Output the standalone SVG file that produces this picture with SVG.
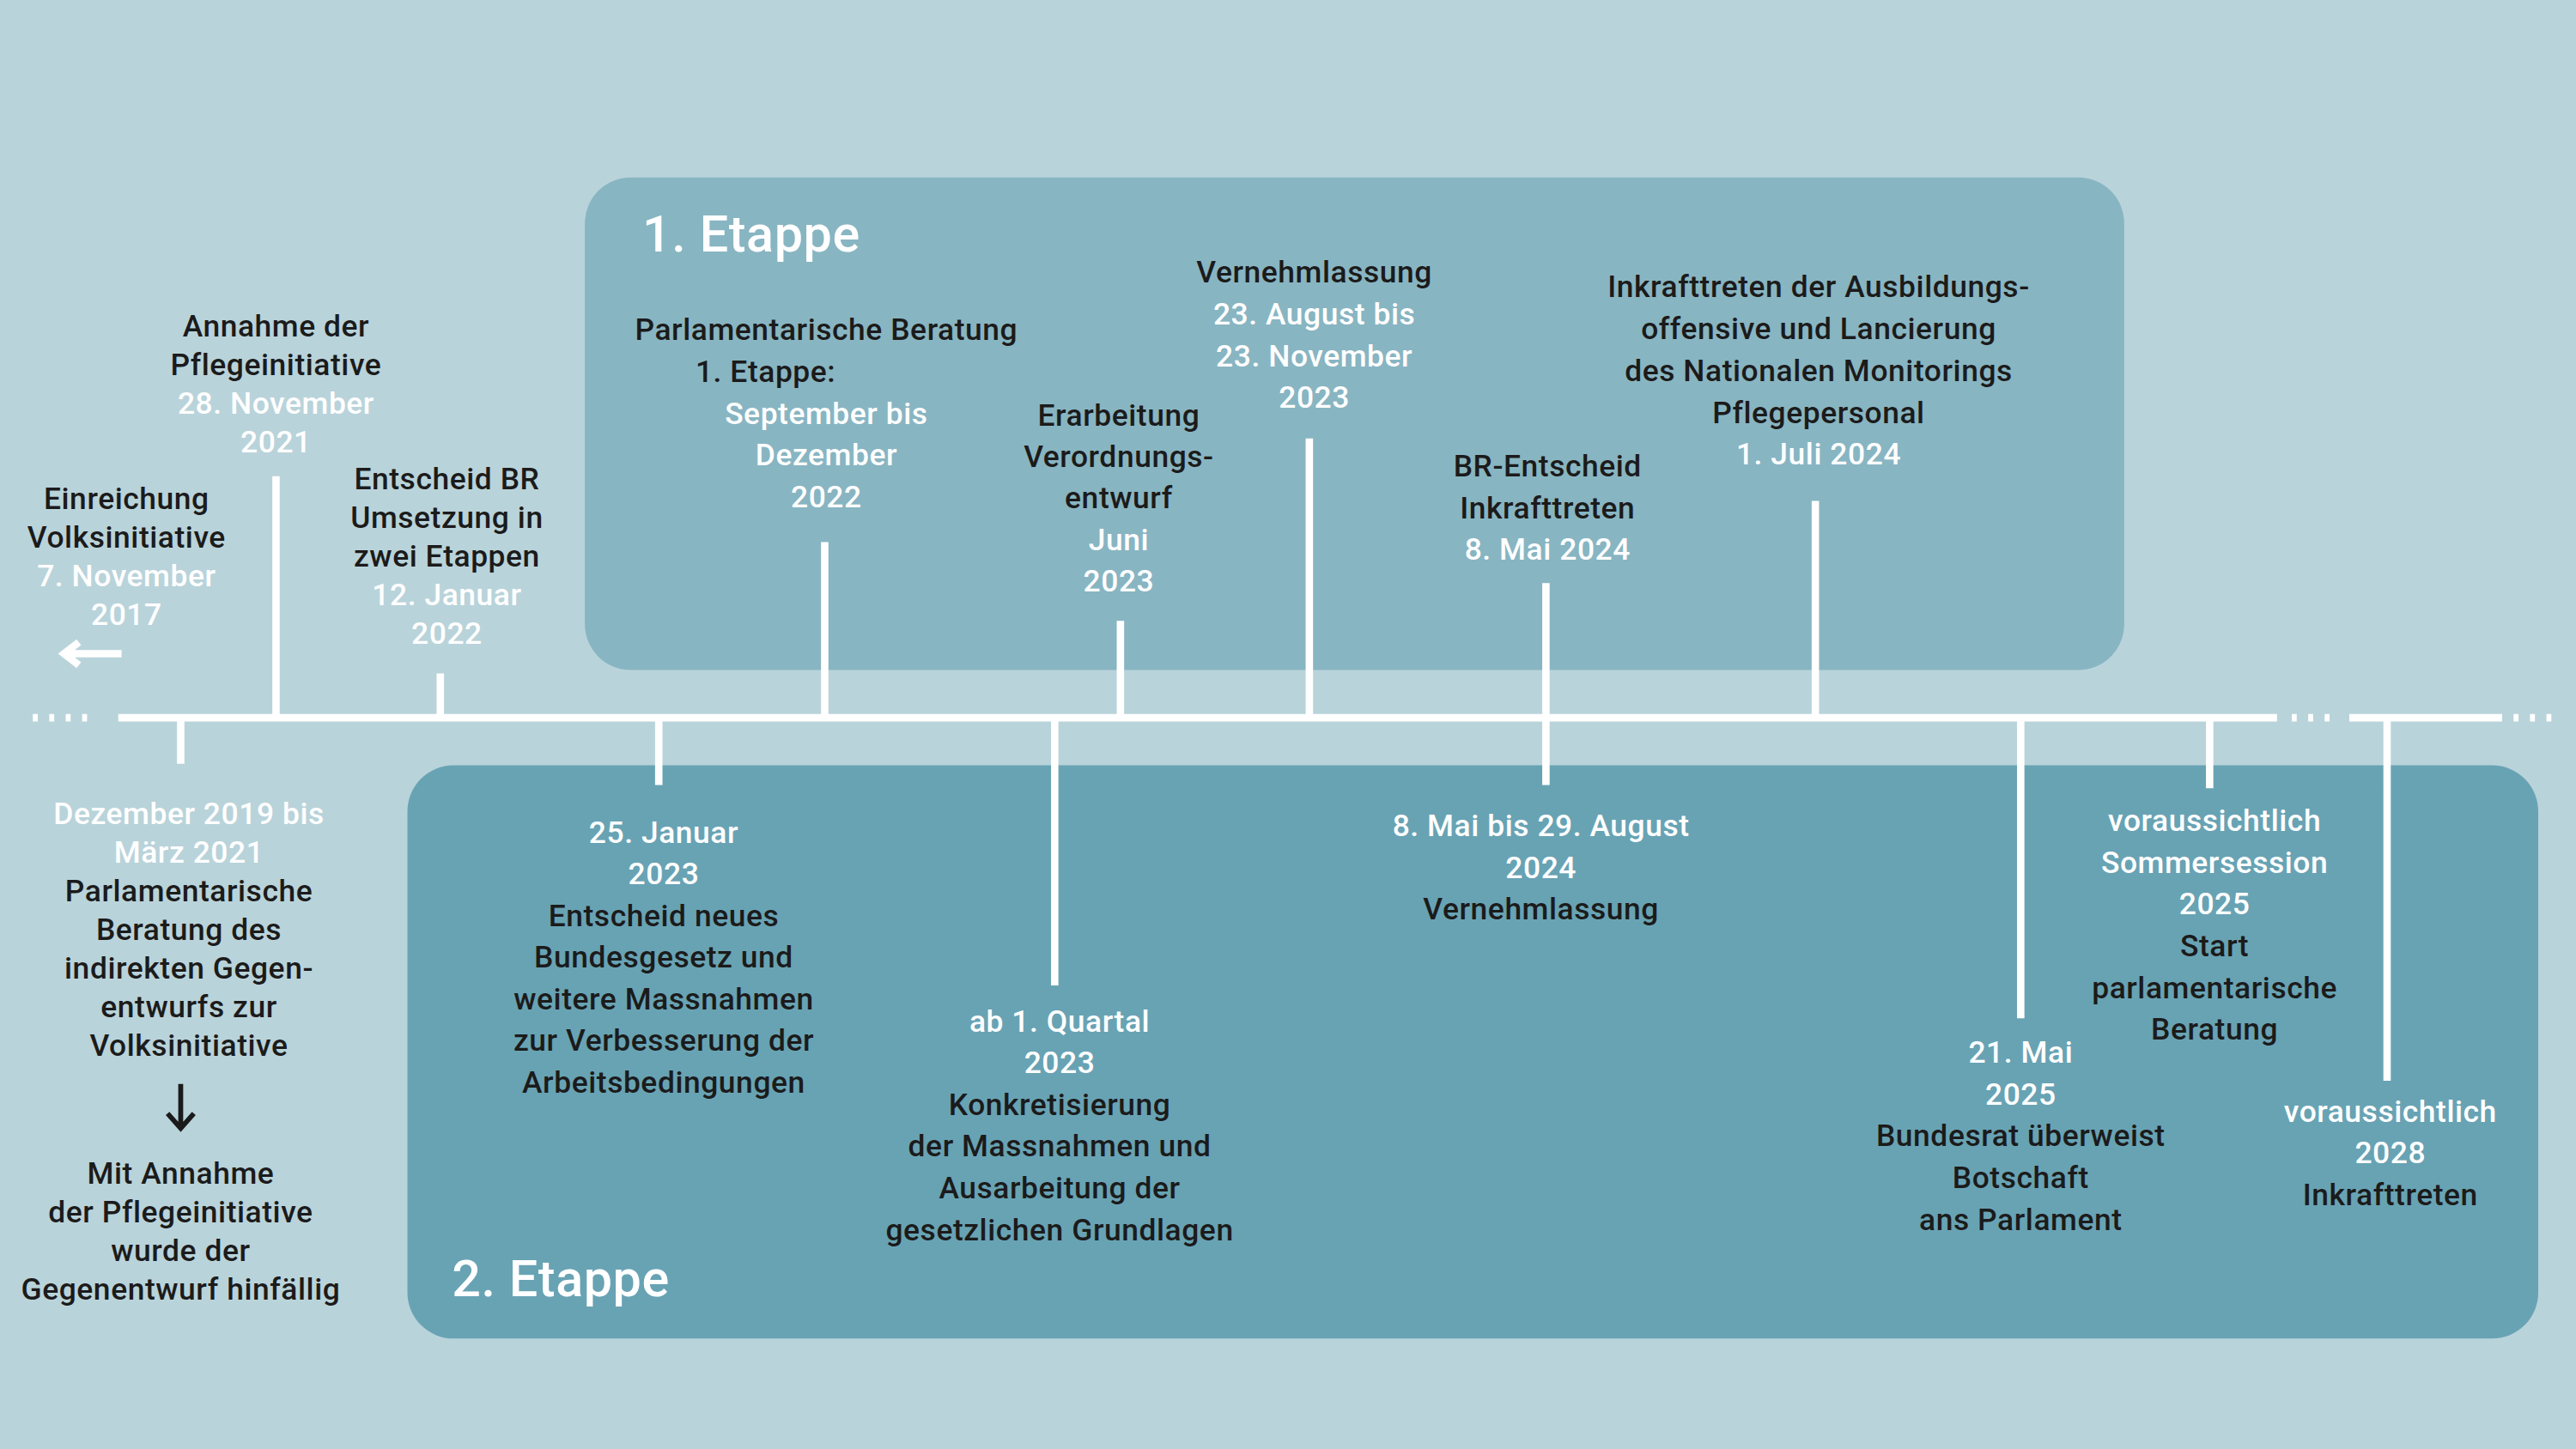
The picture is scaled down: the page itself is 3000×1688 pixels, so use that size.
<svg xmlns="http://www.w3.org/2000/svg" width="3000" height="1688" viewBox="0 0 3000 1688">
<style>
text{font-family:Roboto,"Liberation Sans",sans-serif;font-weight:500;font-size:18.5px;text-anchor:middle;fill:#1b1b1b;letter-spacing:0.3px}
.w{fill:#ffffff}
.t{font-size:31px;text-anchor:start;fill:#ffffff}
.ln{stroke:#ffffff;stroke-width:4.5;fill:none}
.dot{stroke:#ffffff;stroke-width:4.5;stroke-dasharray:3 7;fill:none}
</style>
<rect width="3000" height="1688" fill="#b9d3da"/>
<g transform="scale(1.91327)">
<g id="etappe1"><rect x="356" y="108" width="937" height="300" rx="28" fill="#88b5c2"/><text class="t" x="391" y="153">1. Etappe</text></g>
<g id="etappe2"><rect x="248" y="466" width="1297" height="349" rx="28" fill="#68a3b4"/><text class="t" x="275" y="789">2. Etappe</text></g>
<g id="connectors">
<path class="dot" d="M20 437H58M1395 437H1422M1530 437H1558"/>
<path class="ln" d="M72 437H1386M1430 437H1523"/>
<path class="ln" d="M110 437V465M168 290V437M268 410V437M401 437V478M502 330V437M642 437V600M682 378V437M797 267V437M941 355V478M1105 305V437M1230 437V620M1345 437V480M1453 437V658"/>
<path class="ln" d="M74 398H40M48 391L39 398L48 405" stroke-width="3"/>
<path d="M110 660V686M102 678L110 687L118 678" stroke="#1b1b1b" stroke-width="3" fill="none"/>
</g>
<g id="n1"><text x="77" y="310">Einreichung<tspan x="77" dy="23.5">Volksinitiative</tspan><tspan class="w" x="77" dy="23.5">7. November</tspan><tspan class="w" x="77" dy="23.5">2017</tspan></text></g>
<g id="n2"><text x="168" y="205">Annahme der<tspan x="168" dy="23.5">Pflegeinitiative</tspan><tspan class="w" x="168" dy="23.5">28. November</tspan><tspan class="w" x="168" dy="23.5">2021</tspan></text></g>
<g id="n3"><text x="272" y="298">Entscheid BR<tspan x="272" dy="23.5">Umsetzung in</tspan><tspan x="272" dy="23.5">zwei Etappen</tspan><tspan class="w" x="272" dy="23.5">12. Januar</tspan><tspan class="w" x="272" dy="23.5">2022</tspan></text></g>
<g id="n4"><text x="115" y="502"><tspan class="w">Dezember 2019 bis</tspan><tspan class="w" x="115" dy="23.5">März 2021</tspan><tspan x="115" dy="23.5">Parlamentarische</tspan><tspan x="115" dy="23.5">Beratung des</tspan><tspan x="115" dy="23.5">indirekten Gegen-</tspan><tspan x="115" dy="23.5">entwurfs zur</tspan><tspan x="115" dy="23.5">Volksinitiative</tspan></text>
<text x="110" y="721">Mit Annahme<tspan x="110" dy="23.5">der Pflegeinitiative</tspan><tspan x="110" dy="23.5">wurde der</tspan><tspan x="110" dy="23.5">Gegenentwurf hinfällig</tspan></text></g>
<g id="n5"><text x="503" y="207">Parlamentarische Beratung<tspan x="466" dy="25.5">1.   Etappe:</tspan><tspan class="w" x="503" dy="25.5">September bis</tspan><tspan class="w" x="503" dy="25.5">Dezember</tspan><tspan class="w" x="503" dy="25.5">2022</tspan></text></g>
<g id="n6"><text x="681" y="259">Erarbeitung<tspan x="681" dy="25.3">Verordnungs-</tspan><tspan x="681" dy="25.3">entwurf</tspan><tspan class="w" x="681" dy="25.3">Juni</tspan><tspan class="w" x="681" dy="25.3">2023</tspan></text></g>
<g id="n7"><text x="800" y="172">Vernehmlassung<tspan class="w" x="800" dy="25.5">23. August bis</tspan><tspan class="w" x="800" dy="25.5">23. November</tspan><tspan class="w" x="800" dy="25.5">2023</tspan></text></g>
<g id="n8"><text x="942" y="290">BR-Entscheid<tspan x="942" dy="25.5">Inkrafttreten</tspan><tspan class="w" x="942" dy="25.5">8. Mai 2024</tspan></text></g>
<g id="n9"><text x="1107" y="181">Inkrafttreten der Ausbildungs-<tspan x="1107" dy="25.5">offensive und Lancierung</tspan><tspan x="1107" dy="25.5">des Nationalen Monitorings</tspan><tspan x="1107" dy="25.5">Pflegepersonal</tspan><tspan class="w" x="1107" dy="25.5">1. Juli 2024</tspan></text></g>
<g id="n10"><text x="404" y="513"><tspan class="w">25. Januar</tspan><tspan class="w" x="404" dy="25.4">2023</tspan><tspan x="404" dy="25.4">Entscheid neues</tspan><tspan x="404" dy="25.4">Bundesgesetz und</tspan><tspan x="404" dy="25.4">weitere Massnahmen</tspan><tspan x="404" dy="25.4">zur Verbesserung der</tspan><tspan x="404" dy="25.4">Arbeitsbedingungen</tspan></text></g>
<g id="n11"><text x="645" y="628"><tspan class="w">ab 1. Quartal</tspan><tspan class="w" x="645" dy="25.4">2023</tspan><tspan x="645" dy="25.4">Konkretisierung</tspan><tspan x="645" dy="25.4">der Massnahmen und</tspan><tspan x="645" dy="25.4">Ausarbeitung der</tspan><tspan x="645" dy="25.4">gesetzlichen Grundlagen</tspan></text></g>
<g id="n12"><text x="938" y="509"><tspan class="w">8. Mai bis 29. August</tspan><tspan class="w" x="938" dy="25.5">2024</tspan><tspan x="938" dy="25.5">Vernehmlassung</tspan></text></g>
<g id="n13"><text x="1230" y="647"><tspan class="w">21. Mai</tspan><tspan class="w" x="1230" dy="25.5">2025</tspan><tspan x="1230" dy="25.5">Bundesrat überweist</tspan><tspan x="1230" dy="25.5">Botschaft</tspan><tspan x="1230" dy="25.5">ans Parlament</tspan></text></g>
<g id="n14"><text x="1348" y="506"><tspan class="w">voraussichtlich</tspan><tspan class="w" x="1348" dy="25.4">Sommersession</tspan><tspan class="w" x="1348" dy="25.4">2025</tspan><tspan x="1348" dy="25.4">Start</tspan><tspan x="1348" dy="25.4">parlamentarische</tspan><tspan x="1348" dy="25.4">Beratung</tspan></text></g>
<g id="n15"><text x="1455" y="683"><tspan class="w">voraussichtlich</tspan><tspan class="w" x="1455" dy="25.3">2028</tspan><tspan x="1455" dy="25.3">Inkrafttreten</tspan></text></g>
</g>
</svg>
